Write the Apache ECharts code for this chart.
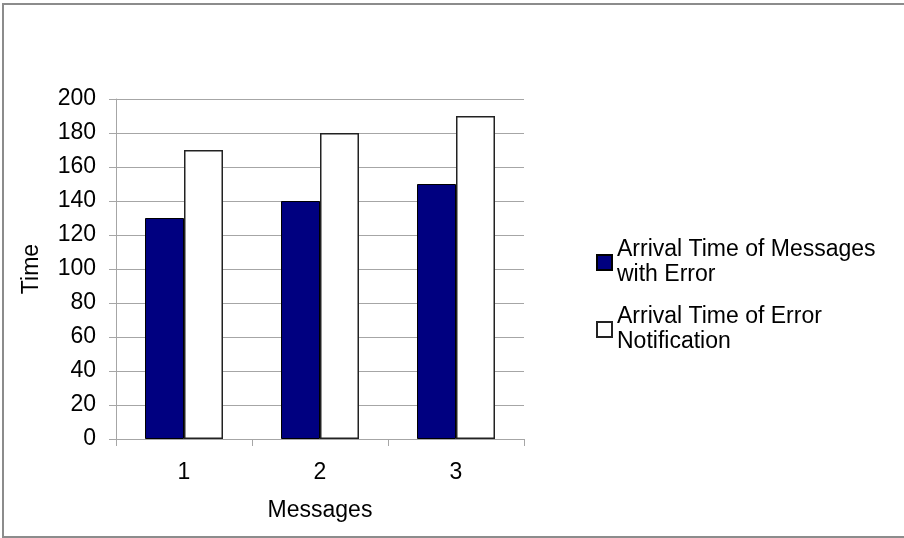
<!DOCTYPE html>
<html>
<head>
<meta charset="utf-8">
<script src="https://cdn.jsdelivr.net/npm/echarts@6/dist/echarts.min.js"></script>
<style>
  html, body { margin: 0; padding: 0; background: #fff; }
  #chart { width: 904px; height: 538px; }
</style>
</head>
<body>
<div id="chart"></div>
<script>
// Message numbers along the x axis
const categories = ['1', '2', '3'];
// Arrival times of messages carrying an error
const arrivalWithError = [130, 140, 150];
// Arrival times of the matching error notifications
const arrivalOfNotification = [170, 180, 190];
// Value axis range
const yMin = 0;
const yMax = 200;
const yStep = 20;

const FONT = '"Liberation Sans", Arial, Helvetica, sans-serif';
const FONT_SIZE = 23;
const GRID_GRAY = '#a6a6a6';

const chart = echarts.init(document.getElementById('chart'), null, { renderer: 'canvas' });

chart.setOption({
  animation: false,
  backgroundColor: '#fff',
  textStyle: { fontFamily: FONT, color: '#000' },
  graphic: [{
    type: 'rect',
    shape: { x: 3, y: 4, width: 1000, height: 533 },
    style: { fill: 'none', stroke: '#8c8c8c', lineWidth: 2 },
    silent: true,
    z: -1
  }],
  grid: { left: 116, right: 380, top: 99, bottom: 99, containLabel: false },
  xAxis: {
    type: 'category',
    data: categories,
    name: 'Messages',
    nameLocation: 'middle',
    nameGap: 60,
    nameTextStyle: { fontSize: FONT_SIZE, fontFamily: FONT, color: '#000' },
    axisLine: { lineStyle: { color: GRID_GRAY, width: 1 } },
    axisTick: { show: true, length: 7, inside: false, alignWithLabel: false, lineStyle: { color: GRID_GRAY } },
    axisLabel: { fontSize: FONT_SIZE, fontFamily: FONT, color: '#000', margin: 22 },
    splitLine: { show: false }
  },
  yAxis: {
    type: 'value',
    min: yMin,
    max: yMax,
    interval: yStep,
    name: 'Time',
    nameLocation: 'middle',
    nameGap: 73,
    nameRotate: 90,
    nameTextStyle: { fontSize: FONT_SIZE, fontFamily: FONT, color: '#000' },
    axisLine: { show: true, lineStyle: { color: GRID_GRAY, width: 1 } },
    axisTick: { show: true, length: 7, lineStyle: { color: GRID_GRAY } },
    axisLabel: { fontSize: FONT_SIZE, fontFamily: FONT, color: '#000', margin: 20 },
    splitLine: { show: true, lineStyle: { color: GRID_GRAY, width: 1 } }
  },
  legend: {
    orient: 'vertical',
    left: 596,
    top: 225,
    padding: 0,
    itemGap: -8,
    itemWidth: 15,
    itemHeight: 15,
    icon: 'rect',
    selectedMode: false,
    textStyle: {
      fontSize: FONT_SIZE,
      fontFamily: FONT,
      color: '#000',
      lineHeight: 25,
      padding: [25, 0, 0, 0]
    },
    data: [
      { name: 'Arrival Time of Messages\nwith Error' },
      { name: 'Arrival Time of Error\nNotification' }
    ]
  },
  series: [
    {
      name: 'Arrival Time of Messages\nwith Error',
      type: 'bar',
      data: arrivalWithError,
      barWidth: 39,
      barGap: '0%',
      itemStyle: { color: '#000080', borderColor: '#000', borderWidth: 1 }
    },
    {
      name: 'Arrival Time of Error\nNotification',
      type: 'bar',
      data: arrivalOfNotification,
      barWidth: 39,
      barGap: '0%',
      itemStyle: { color: '#ffffff', borderColor: '#222', borderWidth: 1.5 }
    }
  ]
});
</script>
</body>
</html>
